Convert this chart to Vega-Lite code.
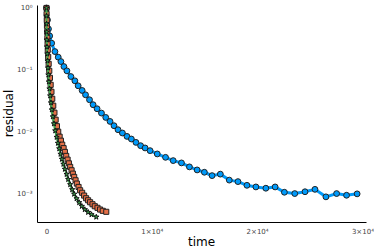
{
  "$schema": "https://vega.github.io/schema/vega-lite/v6.json",
  "width": 329,
  "height": 217,
  "autosize": {"type": "none"},
  "padding": {"left": 37, "top": 5, "right": 8, "bottom": 27},
  "background": "white",
  "config": {
    "view": {"stroke": null},
    "font": "DejaVu Sans",
    "axis": {
      "grid": false,
      "domainColor": "#000000",
      "domainWidth": 1,
      "ticks": false,
      "labelColor": "#444444",
      "labelFontSize": 7,
      "titleFontSize": 12,
      "titleFontWeight": "normal",
      "titleColor": "#000000"
    }
  },
  "datasets": {
    "blue": [
      {"t": 0, "r": 1.0}, {"t": 95, "r": 0.64}, {"t": 189, "r": 0.4585}, {"t": 303, "r": 0.3535},
      {"t": 492, "r": 0.2695}, {"t": 804, "r": 0.1973}, {"t": 1116, "r": 0.1602}, {"t": 1372, "r": 0.1361},
      {"t": 1656, "r": 0.113}, {"t": 1939, "r": 0.0964}, {"t": 2318, "r": 0.0779}, {"t": 2696, "r": 0.0665},
      {"t": 3008, "r": 0.0552}, {"t": 3387, "r": 0.0464}, {"t": 3708, "r": 0.0395}, {"t": 4087, "r": 0.0328},
      {"t": 4427, "r": 0.0273}, {"t": 4806, "r": 0.0235}, {"t": 5222, "r": 0.02}, {"t": 5629, "r": 0.017},
      {"t": 6035, "r": 0.01466}, {"t": 6414, "r": 0.0125}, {"t": 6792, "r": 0.01077}, {"t": 7209, "r": 0.00953},
      {"t": 7644, "r": 0.0084}, {"t": 8060, "r": 0.00762}, {"t": 8495, "r": 0.00672}, {"t": 8940, "r": 0.00594},
      {"t": 9365, "r": 0.00546}, {"t": 9838, "r": 0.00494}, {"t": 10520, "r": 0.00437}, {"t": 11305, "r": 0.00385},
      {"t": 12033, "r": 0.00341}, {"t": 12818, "r": 0.00313}, {"t": 13575, "r": 0.0027}, {"t": 14304, "r": 0.00241},
      {"t": 14994, "r": 0.00221}, {"t": 15723, "r": 0.00195}, {"t": 16508, "r": 0.00206}, {"t": 17359, "r": 0.00165},
      {"t": 18182, "r": 0.00156}, {"t": 19034, "r": 0.00136}, {"t": 19885, "r": 0.00128}, {"t": 20831, "r": 0.00122},
      {"t": 21711, "r": 0.00128}, {"t": 22591, "r": 0.00105}, {"t": 23575, "r": 0.001}, {"t": 24549, "r": 0.00107},
      {"t": 25495, "r": 0.00117}, {"t": 26535, "r": 0.000885}, {"t": 27548, "r": 0.001}, {"t": 28494, "r": 0.000939},
      {"t": 29497, "r": 0.000989}
    ],
    "orange": [
      {"t": 0, "r": 1.0}, {"t": 9, "r": 0.8}, {"t": 28, "r": 0.64}, {"t": 47, "r": 0.5125},
      {"t": 66, "r": 0.41}, {"t": 85, "r": 0.328}, {"t": 104, "r": 0.2626}, {"t": 123, "r": 0.2102},
      {"t": 161, "r": 0.1621}, {"t": 208, "r": 0.125}, {"t": 265, "r": 0.0964}, {"t": 331, "r": 0.0743},
      {"t": 397, "r": 0.0573}, {"t": 473, "r": 0.0442}, {"t": 549, "r": 0.0341}, {"t": 643, "r": 0.0263},
      {"t": 757, "r": 0.0203}, {"t": 870, "r": 0.01561}, {"t": 993, "r": 0.01227}, {"t": 1116, "r": 0.01},
      {"t": 1249, "r": 0.0083}, {"t": 1372, "r": 0.00716}, {"t": 1495, "r": 0.00617}, {"t": 1627, "r": 0.00542},
      {"t": 1750, "r": 0.00471}, {"t": 1873, "r": 0.00406}, {"t": 2006, "r": 0.00354}, {"t": 2129, "r": 0.00308},
      {"t": 2251, "r": 0.0027}, {"t": 2384, "r": 0.00238}, {"t": 2507, "r": 0.0021}, {"t": 2630, "r": 0.00186},
      {"t": 2762, "r": 0.00164}, {"t": 2885, "r": 0.00145}, {"t": 3046, "r": 0.00128}, {"t": 3197, "r": 0.00113},
      {"t": 3387, "r": 0.00103}, {"t": 3576, "r": 0.000928}, {"t": 3765, "r": 0.00084}, {"t": 3954, "r": 0.000779},
      {"t": 4143, "r": 0.000724}, {"t": 4371, "r": 0.000672}, {"t": 4588, "r": 0.000624}, {"t": 4844, "r": 0.000588},
      {"t": 5089, "r": 0.000552}, {"t": 5345, "r": 0.000526}, {"t": 5676, "r": 0.000507}
    ],
    "green": [
      {"t": 0, "r": 1.0}, {"t": 5, "r": 0.743}, {"t": 9, "r": 0.552}, {"t": 19, "r": 0.41},
      {"t": 28, "r": 0.305}, {"t": 47, "r": 0.235}, {"t": 76, "r": 0.181}, {"t": 104, "r": 0.1397},
      {"t": 142, "r": 0.1077}, {"t": 180, "r": 0.083}, {"t": 227, "r": 0.064}, {"t": 284, "r": 0.0494},
      {"t": 350, "r": 0.0381}, {"t": 426, "r": 0.0294}, {"t": 511, "r": 0.0226}, {"t": 605, "r": 0.01746},
      {"t": 710, "r": 0.01346}, {"t": 832, "r": 0.01038}, {"t": 965, "r": 0.00815}, {"t": 1088, "r": 0.00653},
      {"t": 1211, "r": 0.00532}, {"t": 1334, "r": 0.00434}, {"t": 1466, "r": 0.0036}, {"t": 1608, "r": 0.00299},
      {"t": 1750, "r": 0.00248}, {"t": 1911, "r": 0.00205}, {"t": 2062, "r": 0.0017}, {"t": 2251, "r": 0.0014},
      {"t": 2441, "r": 0.00116}, {"t": 2630, "r": 0.000982}, {"t": 2857, "r": 0.00083}, {"t": 3103, "r": 0.000716},
      {"t": 3358, "r": 0.000624}, {"t": 3642, "r": 0.000552}, {"t": 3954, "r": 0.000499}, {"t": 4276, "r": 0.000458},
      {"t": 4730, "r": 0.000418}
    ]
  },
  "encoding": {
    "x": {
      "field": "t", "type": "quantitative",
      "scale": {"domain": [-900, 30340], "nice": false, "zero": false},
      "axis": {
        "title": "time",
        "values": [0, 10000, 20000, 30000],
        "labelExpr": "datum.value == 0 ? '0' : (datum.value / 10000) + '×10⁴'",
        "labelPadding": 5,
        "titleX": 164,
        "titleY": 19,
        "titleBaseline": "middle",
        "titleAlign": "center"
      }
    },
    "y": {
      "field": "r", "type": "quantitative",
      "scale": {"type": "log", "domain": [0.000347, 1.117], "nice": false},
      "axis": {
        "title": "residual",
        "values": [0.001, 0.01, 0.1, 1],
        "labelExpr": "datum.value >= 1 ? '10⁰' : datum.value >= 0.1 ? '10⁻¹' : datum.value >= 0.01 ? '10⁻²' : '10⁻³'",
        "labelPadding": 5,
        "titleX": -29,
        "titleY": 108,
        "titleBaseline": "middle",
        "titleAlign": "center",
        "titleAngle": 270
      }
    }
  },
  "layer": [
    {"data": {"name": "blue"}, "mark": {"type": "line", "color": "#009AFA", "strokeWidth": 3}},
    {"data": {"name": "blue"}, "mark": {"type": "point", "shape": "circle", "filled": true, "fill": "#009AFA", "fillOpacity": 1, "stroke": "#222222", "strokeWidth": 1, "size": 34, "opacity": 1}},
    {"data": {"name": "orange"}, "mark": {"type": "line", "color": "#E36F47", "strokeWidth": 3}},
    {"data": {"name": "orange"}, "mark": {"type": "point", "shape": "square", "filled": true, "fill": "#E36F47", "fillOpacity": 1, "stroke": "#222222", "strokeWidth": 1, "size": 26, "opacity": 1}},
    {"data": {"name": "green"}, "mark": {"type": "line", "color": "#3EA44E", "strokeWidth": 2}},
    {"data": {"name": "green"}, "mark": {"type": "point", "shape": "M0,-1L0.235,-0.324L0.951,-0.309L0.38,0.124L0.588,0.809L0,0.4L-0.588,0.809L-0.38,0.124L-0.951,-0.309L-0.235,-0.324Z", "filled": true, "fill": "#3EA44E", "fillOpacity": 1, "stroke": "#111111", "strokeWidth": 1, "size": 30, "opacity": 1}}
  ]
}
